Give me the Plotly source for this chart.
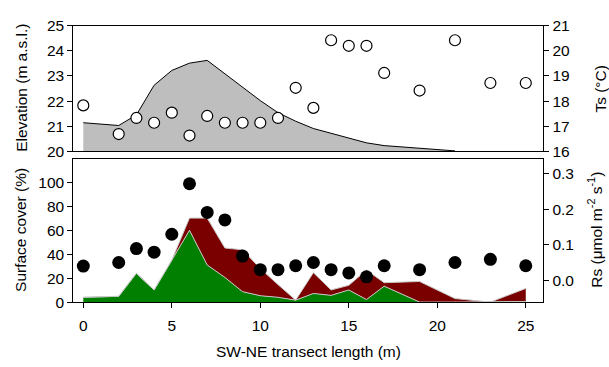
import plotly.graph_objects as go

# ---- data ----
x_pos = [0, 2, 3, 4, 5, 6, 7, 8, 9, 10, 11, 12, 13, 14, 15, 16, 17, 19, 21, 23, 25]
elev_x = [0, 2, 3, 4, 5, 6, 7, 8, 9, 10, 11, 12, 13, 14, 15, 16, 17, 19, 21]
elevation = [21.14, 21.03, 21.45, 22.63, 23.22, 23.51, 23.62, 23.09, 22.55, 22.02,
             21.54, 21.2, 20.91, 20.72, 20.53, 20.34, 20.23, 20.12, 20.02]
ts = [17.83, 16.69, 17.33, 17.14, 17.54, 16.63, 17.41, 17.14, 17.14, 17.14, 17.33,
      18.53, 17.73, 20.42, 20.2, 20.2, 19.12, 18.42, 20.42, 18.72, 18.72]
green_cover = [4.0, 4.8, 24.1, 10.1, 35, 60, 31, 20.6, 8.7, 5.3, 4.0, 1.6, 7.2,
               5.6, 10.1, 2.1, 13.3, 0, 0, 0, 0.5]
total_cover = [4.0, 4.8, 24.1, 10.1, 35, 70.2, 70.2, 45.2, 43.7, 28, 14.6, 1.6, 24.6,
               10.1, 14, 26.7, 16.2, 17.2, 2.9, 0, 11.4]
rs = [0.041, 0.051, 0.09, 0.08, 0.13, 0.271, 0.191, 0.170, 0.069, 0.031, 0.031,
      0.042, 0.051, 0.031, 0.022, 0.011, 0.042, 0.031, 0.051, 0.060, 0.042]

x_ticks = [0, 5, 10, 15, 20, 25]

W, H = 609, 367
FONT = "Liberation Sans, Arial, sans-serif"
FS = 15.5

def px(v):
    return v / W

def py(v):
    return 1 - v / H

fig = go.Figure()

# top panel
fig.add_trace(go.Scatter(x=elev_x, y=elevation, mode="lines", fill="tozeroy",
                         fillcolor="#bebebe", line=dict(color="black", width=1),
                         xaxis="x", yaxis="y", showlegend=False))
fig.add_trace(go.Scatter(x=x_pos, y=ts, mode="markers",
                         marker=dict(size=11, color="white", line=dict(color="black", width=1.2)),
                         xaxis="x", yaxis="y2", showlegend=False))

# bottom panel
fig.add_trace(go.Scatter(x=x_pos, y=green_cover, mode="lines", fill="tozeroy",
                         fillcolor="#007f00", line=dict(color="#c8c8c8", width=1),
                         xaxis="x2", yaxis="y3", showlegend=False))
fig.add_trace(go.Scatter(x=x_pos, y=total_cover, mode="lines", fill="tonexty",
                         fillcolor="#7a0000", line=dict(color="#c8c8c8", width=1),
                         xaxis="x2", yaxis="y3", showlegend=False))
fig.add_trace(go.Scatter(x=x_pos, y=rs, mode="markers",
                         marker=dict(size=13, color="black"),
                         xaxis="x2", yaxis="y4", showlegend=False))

xdom = [px(73.3), px(543.3)]
top_dom = [py(149.3), py(17.5)]
bot_dom = [py(307.3), py(157.3)]
xr = [-0.565, 25.99]

axis_common = dict(showline=True, linecolor="black", linewidth=1, ticks="outside",
                   ticklen=5, tickcolor="black", showgrid=False, zeroline=False,
                   tickfont=dict(family=FONT, size=FS, color="black"))

fig.update_layout(
    width=W, height=H,
    margin=dict(l=0, r=0, t=0, b=0),
    paper_bgcolor="white", plot_bgcolor="white",
    xaxis=dict(domain=xdom, range=xr, anchor="y", showline=True, mirror=True,
               linecolor="black", linewidth=1, showticklabels=False, ticks="",
               showgrid=False, zeroline=False),
    yaxis=dict(domain=top_dom, range=[20, 25], anchor="x", dtick=1, mirror=True,
               **axis_common),
    yaxis2=dict(range=[16, 21], overlaying="y", side="right", anchor="x", dtick=1,
                **axis_common),
    xaxis2=dict(domain=xdom, range=xr, anchor="y3", tickvals=x_ticks, mirror=True,
                ticklabelstandoff=4, **axis_common),
    yaxis3=dict(domain=bot_dom, range=[0, 119.6], anchor="x2",
                tickvals=[0, 20, 40, 60, 80, 100], mirror=True, **axis_common),
    yaxis4=dict(range=[-0.0594, 0.340], overlaying="y3", side="right", anchor="x2",
                tickvals=[0.0, 0.1, 0.2, 0.3], ticktext=["0.0", "0.1", "0.2", "0.3"],
                **axis_common),
)

ann_font = dict(family=FONT, size=FS, color="black")
annotations = [
    dict(text="Elevation (m a.s.l.)", x=px(20.7), y=py(83), textangle=-90),
    dict(text="Ts (°C)", x=px(600.5), y=py(84), textangle=-90),
    dict(text="Surface cover (%)", x=px(20.7), y=py(232), textangle=-90),
    dict(text="Rs (μmol m<sup>-2</sup> s<sup>-1</sup>)", x=px(595.5), y=py(232), textangle=-90),
    dict(text="SW-NE transect length (m)", x=px(308.3), y=py(359)),
]
for a in annotations:
    a.update(xref="paper", yref="paper", showarrow=False, xanchor="center",
             yanchor="middle", font=ann_font)
fig.update_layout(annotations=annotations)

fig.write_html("out.html")
